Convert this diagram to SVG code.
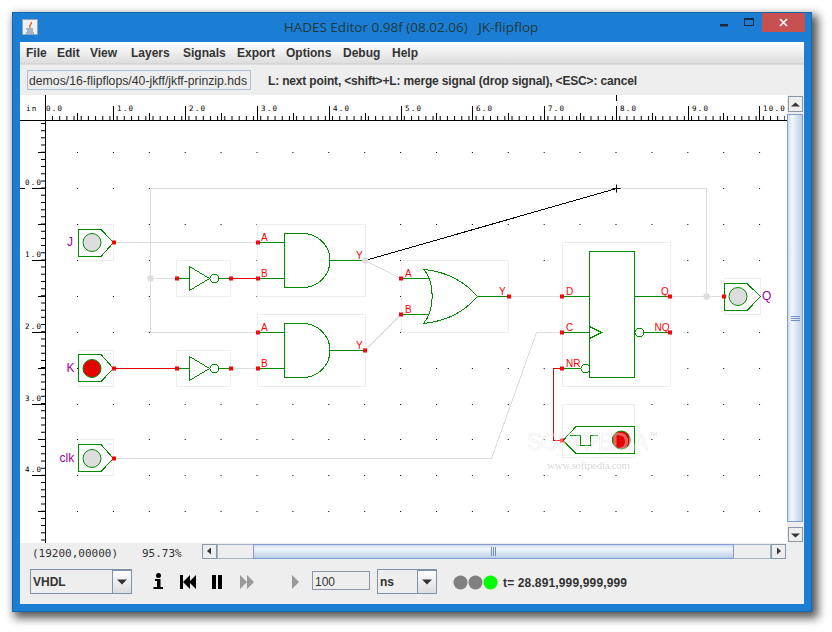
<svg xmlns="http://www.w3.org/2000/svg" width="832" height="632" viewBox="0 0 832 632">
<style>
.ui{font-family:"Liberation Sans",Arial,sans-serif;font-size:12px;font-weight:bold;fill:#333}
.mono{font-family:"DejaVu Sans Mono",monospace;font-size:11px;fill:#333}
.rl{font-family:"DejaVu Sans Mono",monospace;font-size:7.5px;fill:#000;letter-spacing:1.2px}
.box{fill:#fff;stroke:#eee;stroke-width:1}
.g{fill:none;stroke:#008a00;stroke-width:1;shape-rendering:crispEdges}
.w{fill:none;stroke:#ddd;stroke-width:1;shape-rendering:crispEdges}
.r{fill:none;stroke:#e60000;stroke-width:1;shape-rendering:crispEdges}
.p{fill:#f00;stroke:none}
.pl{font-family:"Liberation Sans",Arial,sans-serif;font-size:10px;fill:#f00}
.nl{font-family:"Liberation Sans",Arial,sans-serif;font-size:12px;fill:#a000a0}
.tick{stroke:#000;stroke-width:1;fill:none}
.dots{stroke:#000;stroke-width:1;stroke-dasharray:1 34.9;fill:none}
.btn{fill:#eee;stroke:#8a97a8;stroke-width:1}
</style>
<defs>
<filter id="sh" x="-5%" y="-5%" width="110%" height="110%"><feGaussianBlur stdDeviation="5"/></filter>
<linearGradient id="menu" x1="0" y1="0" x2="0" y2="1"><stop offset="0" stop-color="#fff"/><stop offset="1" stop-color="#dcdcdc"/></linearGradient>
<linearGradient id="hb" x1="0" y1="0" x2="0" y2="1"><stop offset="0" stop-color="#c9d8eb"/><stop offset=".3" stop-color="#f2f6fb"/><stop offset="1" stop-color="#b9cde6"/></linearGradient>
<linearGradient id="vb" x1="0" y1="0" x2="1" y2="0"><stop offset="0" stop-color="#c9d8eb"/><stop offset=".3" stop-color="#f2f6fb"/><stop offset="1" stop-color="#b9cde6"/></linearGradient>
</defs>
<rect width="832" height="632" fill="#fff"/>
<rect x="14" y="15" width="804" height="603" fill="#555" filter="url(#sh)"/>
<g id="window">
<rect x="12" y="12" width="800" height="600" fill="#1b7ed4"/>
<rect x="12.500" y="12.500" width="799" height="599" fill="none" stroke="#1767ad"/>
<rect x="20" y="42" width="784" height="562" fill="#eee"/>
<rect x="22.500" y="19.500" width="15" height="15" fill="#eef2f6" stroke="#8fa5bb"/>
<path d="M31 22c2 2-3 3-1 6" fill="none" stroke="#e06a1c" stroke-width="1.500"/>
<path d="M26 29h7M27 31h6M26 33h8" fill="none" stroke="#5a7a9c" stroke-width="1"/>
<text x="411" y="32" text-anchor="middle" xml:space="preserve" font-family="Open Sans, Noto Sans, sans-serif" font-size="13.500" fill="#1c3a3a">HADES Editor 0.98f (08.02.06)   JK-flipflop</text>
<rect x="720" y="24" width="8" height="2.500" fill="#1a2a3a"/>
<rect x="744.500" y="18.500" width="9" height="7" fill="none" stroke="#1a2a3a"/><rect x="744" y="18" width="10" height="2" fill="#1a2a3a"/>
<rect x="762" y="13" width="43" height="19" fill="#c75050"/>
<path d="M780 19l7 7M787 19l-7 7" stroke="#fff" stroke-width="1.600" fill="none"/>
</g>
<g id="menubar">
<rect x="20" y="42" width="784" height="22" fill="url(#menu)"/>
<line x1="20" y1="64" x2="804" y2="64" stroke="#ccc"/>
<text class="ui" x="26" y="57">File</text>
<text class="ui" x="57" y="57">Edit</text>
<text class="ui" x="90" y="57">View</text>
<text class="ui" x="131" y="57">Layers</text>
<text class="ui" x="183" y="57">Signals</text>
<text class="ui" x="237" y="57">Export</text>
<text class="ui" x="286" y="57">Options</text>
<text class="ui" x="343" y="57">Debug</text>
<text class="ui" x="392" y="57">Help</text>
</g>
<g id="toolbar">
<rect x="27.500" y="70.500" width="223" height="19" fill="#eee" stroke="#a9c0d8"/>
<text x="29" y="85" font-family="Liberation Sans, Arial, sans-serif" font-size="12" fill="#333" textLength="218" lengthAdjust="spacingAndGlyphs">demos/16-flipflops/40-jkff/jkff-prinzip.hds</text>
<text class="ui" x="268" y="85" textLength="369" lengthAdjust="spacing">L: next point, &lt;shift&gt;+L: merge signal (drop signal), &lt;ESC&gt;: cancel</text>
</g>
<rect x="20" y="95" width="767" height="448" fill="#fff"/>
<g id="rulers">
<path class="tick" d="M20 120.500H787M45.500 95V543"/>
<path class="tick" d="M113.500 106V120M185.500 106V120M257.500 106V120M329.500 106V120M401.500 106V120M472.500 106V120M544.500 106V120M616.500 106V120M688.500 106V120M759.500 106V120M616.500 95V101"/>
<path class="tick" d="M77.500 113V120M149.500 113V120M221.500 113V120M293.500 113V120M365.500 113V120M436.500 113V120M508.500 113V120M580.500 113V120M652.500 113V120M723.500 113V120"/>
<line x1="52" y1="118" x2="785" y2="118" stroke="#000" stroke-width="4" stroke-dasharray="1 6.180"/>
<line x1="43" y1="123" x2="43" y2="542" stroke="#000" stroke-width="4" stroke-dasharray="1 6.180"/>
<path class="tick" d="M32 188.500H45M20 188.500H25M32 260.500H45M32 332.500H45M32 404.500H45M32 475.500H45"/>
<path class="tick" d="M38 152.500H45M38 224.500H45M38 296.500H45M38 368.500H45M38 439.500H45M38 511.500H45"/>
<text class="rl" x="26" y="111">in</text>
<text class="rl" x="46" y="111">0.0</text><text class="rl" x="117" y="111">1.0</text><text class="rl" x="189" y="111">2.0</text><text class="rl" x="261" y="111">3.0</text><text class="rl" x="333" y="111">4.0</text><text class="rl" x="405" y="111">5.0</text><text class="rl" x="476" y="111">6.0</text><text class="rl" x="548" y="111">7.0</text><text class="rl" x="620" y="111">8.0</text><text class="rl" x="692" y="111">9.0</text><text class="rl" x="763" y="111">10.0</text>
<text class="rl" x="25" y="185">0.0</text><text class="rl" x="25" y="257">1.0</text><text class="rl" x="25" y="329">2.0</text><text class="rl" x="25" y="401">3.0</text><text class="rl" x="25" y="472">4.0</text>
</g>
<g id="grid">
<path class="dots" d="M77 152.500H762M77 188.500H762M77 224.500H762M77 260.500H762M77 296.500H762M77 332.500H762M77 368.500H762M77 404.500H762M77 439.500H762M77 475.500H762M77 511.500H762"/>
</g>
<g id="node-J"><rect class="box" x="78.500" y="224.500" width="35" height="36"/><path class="g" d="M78.500 229.500H101L113.500 242.500L101 256.500H78.500Z"/><circle cx="92" cy="242.500" r="9" fill="#ddd" stroke="#008a00"/><text class="nl" x="67" y="246">J</text></g>
<g id="node-K"><rect class="box" x="78.500" y="350.500" width="35" height="36"/><path class="g" d="M78.500 354.500H101L113.500 368.500L101 381.500H78.500Z"/><circle cx="92" cy="368.500" r="9" fill="#e60000" stroke="#008a00"/><text class="nl" x="66.500" y="372">K</text></g>
<g id="node-clk"><rect class="box" x="78.500" y="439.500" width="35" height="36"/><path class="g" d="M78.500 444.500H101L113.500 458.500L101 471.500H78.500Z"/><circle cx="92" cy="458.500" r="9" fill="#ddd" stroke="#008a00"/><text class="nl" x="59.500" y="462">clk</text></g>
<g id="node-inv1"><rect class="box" x="176.500" y="260.500" width="54" height="36"/><path class="g" d="M189.500 266.500V290.500L209.500 278.500ZM177 278.500H189.500M219 278.500H231"/><circle class="g" cx="214.300" cy="278.500" r="4.300"/></g>
<g id="node-inv2"><rect class="box" x="176.500" y="350.500" width="54" height="36"/><path class="g" d="M189.500 356.500V380.500L209.500 368.500ZM177 368.500H189.500M219 368.500H231"/><circle class="g" cx="214.300" cy="368.500" r="4.300"/></g>
<g id="node-and1"><rect class="box" x="257.500" y="224.500" width="108" height="72"/><path class="g" d="M284.500 233.500H303A27 27 0 0 1 303 287.500H284.500ZM258 242.500H284.500M258 278.500H284.500M330 260.500H365"/><text class="pl" x="261" y="241">A</text><text class="pl" x="261" y="277">B</text><text class="pl" x="356" y="259">Y</text></g>
<g id="node-and2"><rect class="box" x="257.500" y="314.500" width="108" height="72"/><path class="g" d="M284.500 323.500H303A27 27 0 0 1 303 377.500H284.500ZM258 332.500H284.500M258 368.500H284.500M330 350.500H365"/><text class="pl" x="261" y="331">A</text><text class="pl" x="261" y="367">B</text><text class="pl" x="356" y="349">Y</text></g>
<g id="node-or"><rect class="box" x="401.500" y="260.500" width="107" height="72"/><path class="g" d="M424 269.500C449 272 465 282 477.500 296.500C465 311 449 321 423.500 323.500C435 310 435 283 424 269.500ZM401 278.500H429M401 314.500H429M477.500 296.500H509"/><text class="pl" x="405" y="277">A</text><text class="pl" x="405" y="313">B</text><text class="pl" x="499" y="295">Y</text></g>
<g id="node-ff"><rect class="box" x="562.500" y="242.500" width="108" height="144"/><rect class="g" x="589.500" y="251.500" width="45" height="126"/><path class="g" d="M589.500 326.500L601.500 332.500L589.500 338.500M562 296.500H589.500M562 332.500H589.500M562 368.500H581M634.500 296.500H670M644 332.500H670"/><circle class="g" cx="585.300" cy="368.500" r="4.300"/><circle class="g" cx="639.300" cy="332.500" r="4.300"/><text class="pl" x="566" y="295">D</text><text class="pl" x="566" y="331">C</text><text class="pl" x="566" y="367">NR</text><text class="pl" x="661" y="295">Q</text><text class="pl" x="654.500" y="331">NQ</text></g>
<g id="node-reset"><rect class="box" x="562.500" y="404.500" width="72" height="53"/><path class="g" d="M563 440.500L576 426.500H634.500V453.500H576ZM570 435.500H580V445.500H590V435.500H598"/><circle cx="621.300" cy="440" r="9" fill="#e60000" stroke="#008a00"/></g>
<g id="node-Q"><rect class="box" x="724.500" y="278.500" width="36" height="36"/><path class="g" d="M724.500 283.500H747L760.500 296.500L747 310.500H724.500Z"/><circle cx="738" cy="296.500" r="9" fill="#ddd" stroke="#008a00"/><text class="nl" x="762" y="300">Q</text></g>
<g id="connectors">
<path class="w" d="M114 242.500H258M150.500 188.500V332.500H258M150.500 188.500H706.500V296.500M150.500 278.500H177M231 368.500H258M365 260.500L401 278.500M365 350.500L401 314.500M509 296.500H562M670 296.500H724M114 458.500H491.500L536.500 332.500H562"/>
<path class="r" d="M231 278.500H258M114 368.500H177M562 368.500H553.500V440.500H562"/>
<path d="M365 260.500L616.500 188.500" fill="none" stroke="#000" stroke-width="1" shape-rendering="crispEdges"/>
<path d="M612.500 188.500H620.500M616.500 184.500V192.500" fill="none" stroke="#000"/>
<circle cx="150.500" cy="278.500" r="3.200" fill="#ddd"/><circle cx="365" cy="260.500" r="3.200" fill="#ddd"/><circle cx="706.500" cy="296.500" r="3.200" fill="#ddd"/>
<path class="p" d="M112 240.500h4v4h-4zM175 276.500h4v4h-4zM229 276.500h4v4h-4zM256 240.500h4v4h-4zM256 276.500h4v4h-4zM256 330.500h4v4h-4zM256 366.500h4v4h-4zM112 366.500h4v4h-4zM175 366.500h4v4h-4zM229 366.500h4v4h-4zM363 348.500h4v4h-4zM112 456.500h4v4h-4zM399 276.500h4v4h-4zM399 312.500h4v4h-4zM507 294.500h4v4h-4zM560 294.500h4v4h-4zM560 330.500h4v4h-4zM560 366.500h4v4h-4zM560 438.500h4v4h-4zM668 294.500h4v4h-4zM668 330.500h4v4h-4zM722 294.500h4v4h-4z"/>
</g>
<g id="watermark" opacity=".55">
<text x="527" y="450" font-family="Liberation Sans, Arial, sans-serif" font-size="23" fill="#fff" fill-opacity=".6" stroke="#ddd" stroke-width=".7" textLength="121">SOFTPEDIA</text>
<text x="650" y="436" font-family="Liberation Sans, Arial, sans-serif" font-size="5" fill="#bbb">TM</text>
<text x="547" y="469" font-family="Liberation Serif, serif" font-size="11" fill="#bbb" textLength="83">www.softpedia.com</text>
</g>
<g id="vscroll">
<rect x="787" y="95" width="17" height="448" fill="#eee"/>
<rect x="788.500" y="96.500" width="14" height="15" class="btn"/><path d="M791 106.500h9l-4.500-4z" fill="#333"/>
<rect x="787.500" y="114.500" width="15" height="407" fill="url(#vb)" stroke="#7f9bd0"/>
<path d="M791 316.500h9M791 318.500h9M791 320.500h9" stroke="#6f8fc8" fill="none"/>
<rect x="788.500" y="527.500" width="14" height="14" class="btn"/><path d="M791 533.500h9l-4.500 4z" fill="#333"/>
</g>
<g id="statusbar">
<rect x="20" y="543" width="767" height="61" fill="#eee"/>
<text class="mono" x="32" y="557">(19200,00000)</text>
<text class="mono" x="142" y="557">95.73%</text>
<rect x="217.500" y="544.500" width="553" height="14" fill="#eee" stroke="#a5b2c4"/>
<rect x="202.500" y="544.500" width="14" height="14" class="btn"/><path d="M211 547.500v7l-4-3.500z" fill="#333"/>
<rect x="253.500" y="544.500" width="480" height="14" fill="url(#hb)" stroke="#7f9bd0"/>
<path d="M491.500 547v9M493.500 547v9M495.500 547v9" stroke="#6f8fc8" fill="none"/>
<rect x="771.500" y="544.500" width="14" height="14" class="btn"/><path d="M777 547.500v7l4-3.500z" fill="#333"/>
<rect x="30.500" y="569.500" width="101" height="24" fill="#eee" stroke="#7f93a8"/>
<rect x="112.500" y="570.500" width="19" height="23" fill="url(#menu)" stroke="#7f93a8"/>
<path d="M117 579.500h10l-5 5z" fill="#333"/>
<text class="ui" x="33" y="586">VHDL</text>
<g id="icons">
<circle cx="158.500" cy="575.500" r="2.500" fill="#000"/>
<path d="M155 579h5.500v8H163v2h-9.500v-2h3.500v-6h-2z" fill="#000"/>
<path d="M180 575h3v14h-3zM190 575v14l-7-7zM196 575v14l-7-7z" fill="#000"/>
<path d="M212 575h4v14h-4zM218 575h4v14h-4z" fill="#000"/>
<path d="M240 575l7 7-7 7zM247 575l7 7-7 7z" fill="#999"/>
<path d="M292 575l7 7-7 7z" fill="#999"/>
</g>
<rect x="312.500" y="571.500" width="57" height="18" fill="#eee" stroke="#8a97a8"/>
<text x="315" y="586" font-family="Liberation Sans, Arial, sans-serif" font-size="12" fill="#333">100</text>
<rect x="377.500" y="569.500" width="59" height="24" fill="#eee" stroke="#7f93a8"/>
<rect x="417.500" y="570.500" width="19" height="23" fill="url(#menu)" stroke="#7f93a8"/>
<path d="M422 579.500h10l-5 5z" fill="#333"/>
<text class="ui" x="380" y="586">ns</text>
<circle cx="460.500" cy="582.500" r="7" fill="#808080"/><circle cx="475.500" cy="582.500" r="7" fill="#808080"/><circle cx="490.500" cy="582.500" r="7" fill="#0f0"/>
<text class="ui" x="503" y="587" textLength="124">t= 28.891,999,999,999</text>
</g>
</svg>
